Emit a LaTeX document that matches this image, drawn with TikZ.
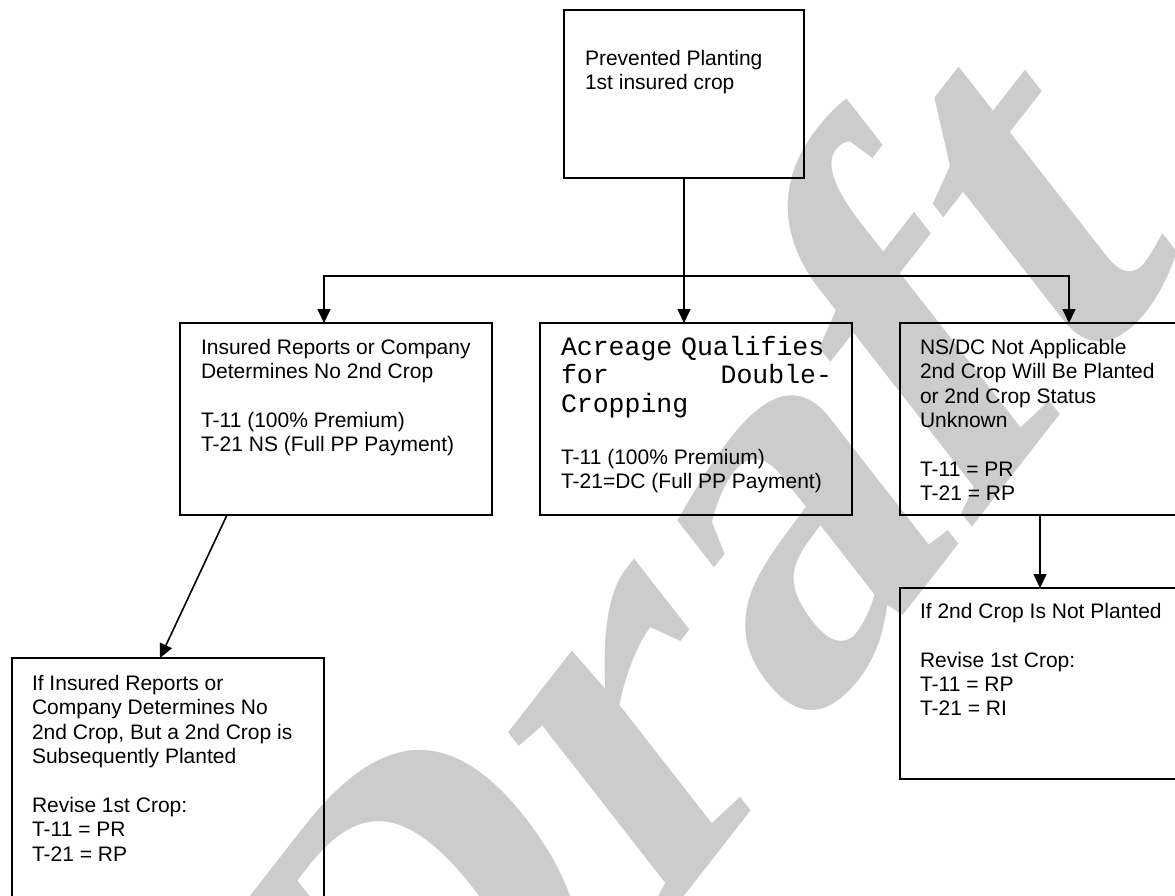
\documentclass[tikz,border=0pt]{standalone}
\usepackage{fontspec}
\setmainfont{Liberation Sans}
\newfontfamily\monof{Liberation Mono}
\newfontfamily\wmfont{Liberation Serif}
\usetikzlibrary{arrows.meta}
\begin{document}
\begin{tikzpicture}[x=1pt,y=-1pt,
  box/.style={draw, line width=1.6pt, inner sep=0pt, outer sep=0pt, anchor=north west},
  txt/.style={anchor=north west, inner sep=0pt, outer sep=0pt, align=left, font=\fontsize{21}{24.4}\selectfont},
  mtxt/.style={anchor=north west, inner sep=0pt, outer sep=0pt, align=left, text width=271pt, font=\monof\fontsize{26.5}{28.5}\selectfont},
  arr/.style={line width=1.6pt, -{Triangle[length=14pt,width=13pt]}}]
\useasboundingbox (0,0) rectangle (1175,895);
\clip (0,0) rectangle (1175,895);
% watermark
\begin{scope}[shift={(412,1244)}, yscale=1.28, transform shape]
\node[rotate=45, anchor=base west, text=black!20, inner sep=0pt, font=\wmfont\bfseries\fontsize{468}{468}\selectfont] (wm) at (0,0) {Draft};
\end{scope}
% boxes
\node[box, minimum width=240pt, minimum height=168pt] (top) at (564,10) {};
\node[box, minimum width=312pt, minimum height=192pt] (lbox) at (180,323) {};
\node[box, minimum width=312pt, minimum height=192pt] (mbox) at (540,323) {};
\node[box, minimum width=312pt, minimum height=192pt] (rbox) at (900,323) {};
\node[box, minimum width=312pt, minimum height=191pt] (lrbox) at (900,588) {};
\node[box, minimum width=312pt, minimum height=300pt] (blbox) at (12,658) {};
% texts
\node[txt] (toptxt) at (585,50) {Prevented Planting\\1st insured crop};
\node[txt] (ltxt) at (201,339) {Insured Reports or Company\\Determines No 2nd Crop\\[24.4pt]T-11 (100\% Premium)\\T-21 NS (Full PP Payment)};
\node[mtxt] (mtxt1) at (561,336) {Acreage Qualifies\\for\hfill Double-\\Cropping};
\node[txt] (mtxt2) at (561,449) {T-11 (100\% Premium)\\T-21=DC (Full PP Payment)};
\node[txt] (rtxt) at (920,339) {NS/DC Not Applicable\\2nd Crop Will Be Planted\\or 2nd Crop Status\\Unknown\\[24.4pt]T-11 = PR\\T-21 = RP};
\node[txt] (lrtxt) at (920,603) {If 2nd Crop Is Not Planted\\[24.4pt]Revise 1st Crop:\\T-11 = RP\\T-21 = RI};
\node[txt] (bltxt) at (32,675) {If Insured Reports or\\Company Determines No\\2nd Crop, But a 2nd Crop is\\Subsequently Planted\\[24.4pt]Revise 1st Crop:\\T-11 = PR\\T-21 = RP};
% connectors
\coordinate (hl) at (324,276);
\coordinate (hr) at (1069,276);
\draw[arr] (top.south) -- (top.south |- mbox.north);
\draw[arr] (top.south |- hl) -- (hl) -- (hl |- lbox.north);
\draw[arr] (top.south |- hr) -- (hr) -- (hr |- rbox.north);
\draw[arr] ([xshift=-16pt]rbox.south) -- ([xshift=-16pt]lrbox.north);
\draw[arr] ([xshift=47pt]lbox.south west) -- ([xshift=148pt]blbox.north west);
\end{tikzpicture}
\end{document}
